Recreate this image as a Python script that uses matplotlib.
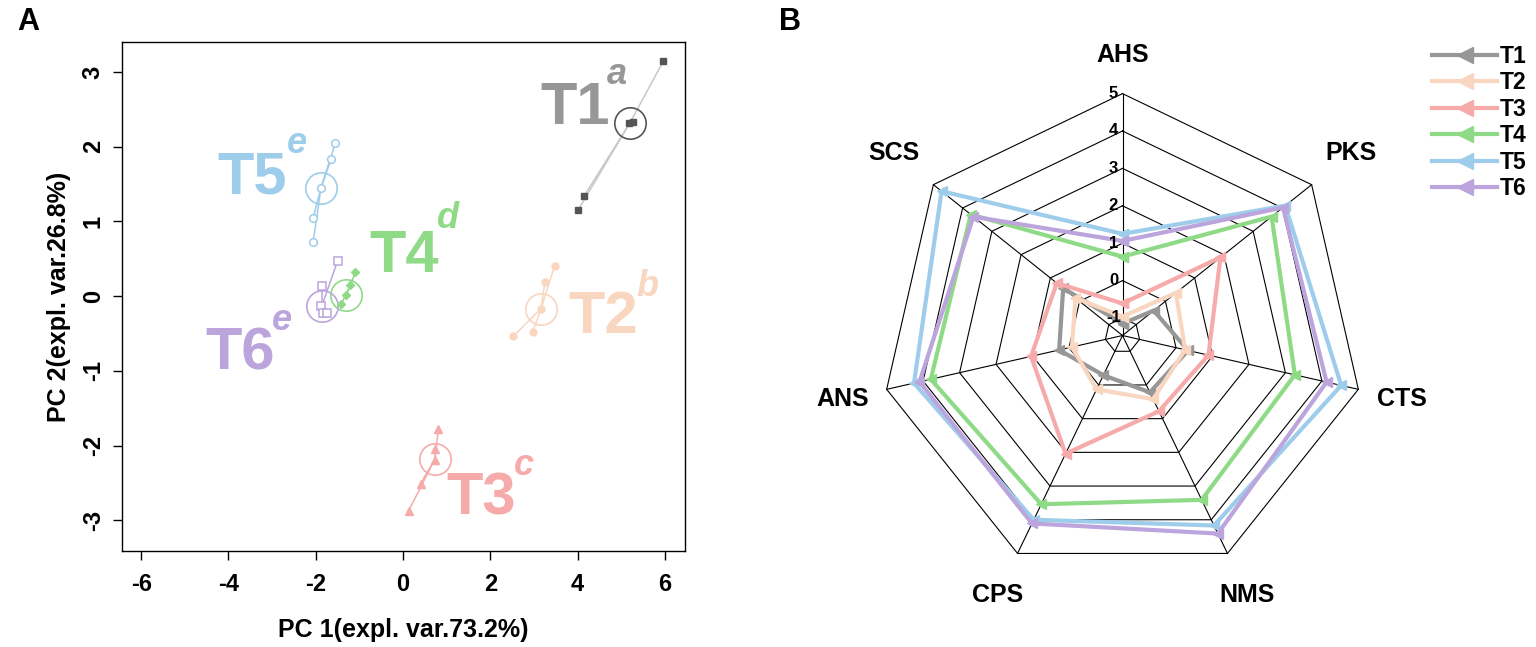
import numpy as np
import matplotlib
matplotlib.use('Agg')
from matplotlib import pyplot as plt
from matplotlib.lines import Line2D

plt.rcParams['font.family'] = ['Liberation Sans', 'DejaVu Sans']
plt.rcParams['font.weight'] = 'bold'
plt.rcParams['axes.unicode_minus'] = False

groups = ['T1', 'T2', 'T3', 'T4', 'T5', 'T6']
letters = ['a', 'b', 'c', 'd', 'e', 'e']

# panel A: PCA scores
t1_x = [5.96, 5.17, 5.27, 4.15, 4.01]
t1_y = [3.14, 2.32, 2.33, 1.34, 1.15]
t2_x = [3.47, 3.25, 3.16, 2.97, 2.52]
t2_y = [0.40, 0.19, -0.17, -0.48, -0.54]
t3_x = [0.81, 0.74, 0.74, 0.40, 0.13]
t3_y = [-1.78, -2.04, -2.19, -2.51, -2.87]
t4_x = [-1.09, -1.21, -1.30, -1.42]
t4_y = [0.32, 0.15, 0.02, -0.10]
t5_x = [-1.55, -1.65, -1.88, -2.06, -2.06]
t5_y = [2.05, 1.83, 1.45, 1.05, 0.72]
t6_x = [-1.50, -1.86, -1.88, -1.84, -1.74]
t6_y = [0.47, 0.13, -0.13, -0.22, -0.22]
centre_x = [5.20, 3.16, 0.73, -1.30, -1.88, -1.86]
centre_y = [2.32, -0.17, -2.18, 0.02, 1.45, -0.13]

# panel B: radar scores
traits = ['AHS', 'PKS', 'CTS', 'NMS', 'CPS', 'ANS', 'SCS']
radar_t1 = [-1.15, -0.40, 0.33, 0.22, -0.29, 0.27, 0.56]
radar_t2 = [-0.96, 0.36, 0.25, 0.42, 0.13, -0.08, 0.14]
radar_t3 = [-0.61, 1.88, 0.89, 0.78, 2.04, 1.04, 0.78]
radar_t4 = [0.64, 3.63, 3.26, 3.41, 3.54, 3.79, 3.72]
radar_t5 = [1.25, 4.10, 4.53, 4.17, 4.00, 4.25, 4.72]
radar_t6 = [1.06, 4.02, 4.13, 4.41, 4.11, 4.10, 3.63]
radar_ticks = [-1, 0, 1, 2, 3, 4, 5]

colors = ['#979797', '#f9d6c0', '#f7aaaa', '#8fda86', '#9ecdec', '#bba5dc']
point_colors = ['#555555', '#f9d6c0', '#f7aaaa', '#8fda86', '#9ecdec', '#bba5dc']
line_colors = ['#c8c8c8', '#f9d6c0', '#f7aaaa', '#8fda86', '#9ecdec', '#bba5dc']
markers = ['s', 'o', '^', 'D', 'o', 's']
filled = [True, True, True, True, False, False]
msizes = [5, 5, 6, 4.5, 5.5, 5.5]

# label positions (data coords)
lab_pos = [(3.94, 2.51), (4.59, -0.29), (1.80, -2.71), (0.02, 0.53), (-3.46, 1.58), (-3.73, -0.78)]
sup_pos = [(4.90, 2.97), (5.60, 0.13), (2.76, -2.27), (1.04, 1.04), (-2.44, 2.04), (-2.78, -0.33)]

fig = plt.figure(figsize=(15.36, 6.47), dpi=100)

# ---------------- panel A
ax1 = fig.add_axes([122 / 1536, 96 / 647, 563 / 1536, 509 / 647])
xs = [t1_x, t2_x, t3_x, t4_x, t5_x, t6_x]
ys = [t1_y, t2_y, t3_y, t4_y, t5_y, t6_y]
for i in range(6):
    cx, cy = centre_x[i], centre_y[i]
    for px, py in zip(xs[i], ys[i]):
        ax1.plot([cx, px], [cy, py], color=line_colors[i], lw=1.1, zorder=1)
    if filled[i]:
        ax1.plot(xs[i], ys[i], markers[i], ms=msizes[i], color=point_colors[i], zorder=3)
    else:
        ax1.plot(xs[i], ys[i], markers[i], ms=msizes[i], mfc='white', mec=point_colors[i],
                 mew=1.1, zorder=3)
    ax1.plot(cx, cy, 'o', ms=22.6, mfc='none', mec=point_colors[i] if i == 0 else colors[i],
             mew=1.2, zorder=2)
    ax1.text(lab_pos[i][0], lab_pos[i][1], groups[i], color=colors[i], fontsize=43,
             fontweight='bold', ha='center', va='center')
    ax1.text(sup_pos[i][0], sup_pos[i][1], letters[i], color=colors[i], fontsize=26,
             fontweight='bold', style='italic', ha='center', va='center')

ax1.set_xlim(-6.44, 6.46)
ax1.set_ylim(-3.41, 3.40)
ax1.set_xticks(np.arange(-6, 7, 2))
ax1.set_yticks(np.arange(-3, 4, 1))
ax1.tick_params(direction='out', length=6.5, width=1, labelsize=17)
ax1.tick_params(axis='x', pad=9)
ax1.tick_params(axis='y', pad=6)
plt.setp(ax1.get_yticklabels(), rotation=90, va='center')
for s in ax1.spines.values():
    s.set_linewidth(1)
ax1.set_xlabel('PC 1(expl. var.73.2%)', fontsize=18, fontweight='bold', labelpad=16)
ax1.set_ylabel('PC 2(expl. var.26.8%)', fontsize=18, fontweight='bold', labelpad=8)

# ---------------- panel B
r0 = -1.468
rmax = 6.5
ax2 = fig.add_axes([824.5 / 1536, 13.5 / 647, 596 / 1536, 596 / 647], projection='polar')
ax2.set_theta_zero_location('N')
ax2.set_theta_direction(-1)
theta = np.linspace(0, 2 * np.pi, len(traits), endpoint=False)
theta_c = np.append(theta, theta[0])

for v in radar_ticks:
    ax2.plot(theta_c, [v] * len(theta_c), color='black', lw=0.8, zorder=1)
for t in theta:
    ax2.plot([t, t], [r0, 5], color='black', lw=0.8, zorder=1)

radar = [radar_t1, radar_t2, radar_t3, radar_t4, radar_t5, radar_t6]
for i in range(6):
    vals = np.append(radar[i], radar[i][0])
    ax2.plot(theta_c, vals, color=colors[i], lw=3, marker='<', ms=7, zorder=3)

for v in radar_ticks:
    ax2.annotate(str(v), xy=(0, v), xytext=(-6.5, 0), textcoords='offset points',
                 ha='center', va='center', fontsize=12, fontweight='bold')

label_r = [6.03, 6.34, 6.2, 6.23, 6.23, 6.2, 6.34]
for t, name, lr in zip(theta, traits, label_r):
    ax2.text(t, lr, name, ha='center', va='center', fontsize=18, fontweight='bold')

ax2.set_ylim(r0, rmax)
ax2.set_xticks([])
ax2.set_yticks([])
ax2.grid(False)
ax2.spines['polar'].set_visible(False)
ax2.patch.set_alpha(0)

handles = [Line2D([0], [0], color=colors[i], lw=3, marker='<', ms=11) for i in range(6)]
fig.legend(handles, groups, loc='upper left', bbox_to_anchor=(1432 / 1536, 602 / 647),
           frameon=False, fontsize=16.5, handlelength=2.85, handletextpad=0.1,
           labelspacing=0.15, borderpad=0, borderaxespad=0, numpoints=1)

fig.text(28 / 1536, 1 - 22 / 647, 'A', fontsize=22, fontweight='bold', ha='center', va='center')
fig.text(790 / 1536, 1 - 22 / 647, 'B', fontsize=22, fontweight='bold', ha='center', va='center')

fig.savefig('out.png', dpi=100)
